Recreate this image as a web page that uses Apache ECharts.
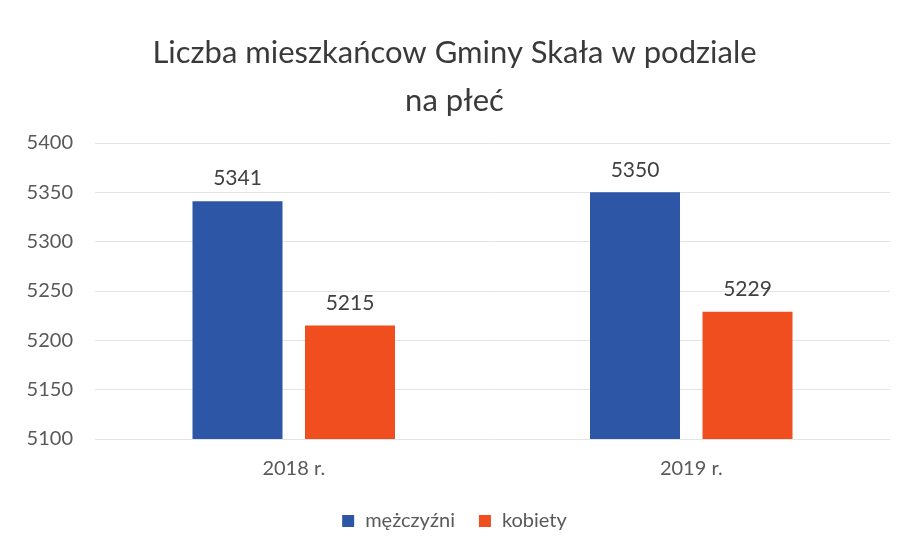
<!DOCTYPE html>
<html><head><meta charset="utf-8">
<script src="https://cdn.jsdelivr.net/npm/echarts@6/dist/echarts.min.js"></script>
<style>html,body{margin:0;padding:0;background:#fff}#c{width:909px;height:556px}</style>
</head><body><div id="c"></div>
<script>
const titleText = 'Liczba mieszkańcow Gminy Skała w podziale\nna płeć';
const categories = ['2018 r.', '2019 r.'];
const seriesNames = ['mężczyźni', 'kobiety'];
const men = [5341, 5350];
const women = [5215, 5229];
const yMin = 5100, yMax = 5400, yStep = 50;

const chart = echarts.init(document.getElementById('c'), null, {renderer: 'canvas'});
const font = 'Lato, "Open Sans", sans-serif';
chart.setOption({
  backgroundColor: '#ffffff',
  animation: false,
  title: {
    text: titleText, left: 'center', top: 24,
    textStyle: {fontFamily: font, fontSize: 31, fontWeight: 'normal', color: '#3a3a3a', lineHeight: 48}
  },
  legend: {
    bottom: 20, left: 'center', itemWidth: 12, itemHeight: 12, itemGap: 24,
    icon: 'rect',
    textStyle: {fontFamily: font, fontSize: 20, color: '#595959', padding: [0, 0, 0, 6]}
  },
  grid: {left: 95, right: 19, top: 143, bottom: 117, containLabel: false},
  xAxis: {
    type: 'category', data: categories,
    axisLine: {show: false}, axisTick: {show: false},
    axisLabel: {fontFamily: font, fontSize: 20, color: '#595959', margin: 20}
  },
  yAxis: {
    type: 'value', min: yMin, max: yMax, interval: yStep,
    axisLine: {show: false}, axisTick: {show: false},
    axisLabel: {fontFamily: font, fontSize: 20, color: '#595959', margin: 22, formatter: v => String(v)},
    splitLine: {lineStyle: {color: '#e4e4e4', width: 1}}
  },
  series: [
    {name: seriesNames[0], type: 'bar', data: men, barWidth: 90, barGap: '25%',
     itemStyle: {color: '#2e56a6'},
     label: {show: true, position: 'top', distance: 12, fontFamily: font, fontSize: 21, color: '#404040'}},
    {name: seriesNames[1], type: 'bar', data: women, barWidth: 90,
     itemStyle: {color: '#f04e1f'},
     label: {show: true, position: 'top', distance: 12, fontFamily: font, fontSize: 21, color: '#404040'}}
  ]
});
</script></body></html>
